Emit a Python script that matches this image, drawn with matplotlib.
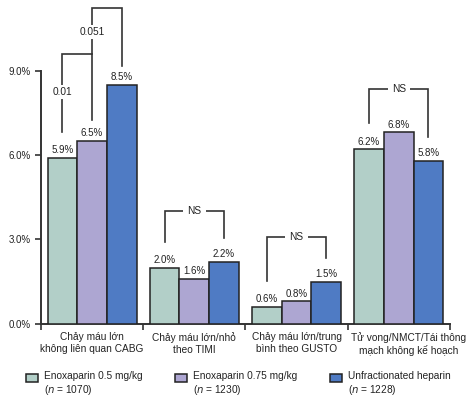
import matplotlib.pyplot as plt
import matplotlib.transforms as mtransforms
from matplotlib.legend_handler import HandlerPatch
from matplotlib.patches import Rectangle
import numpy as np

plt.rcParams['font.family'] = ['Liberation Sans', 'DejaVu Sans']

# data
categories = ['Chảy máu lớn\nkhông liên quan CABG',
              'Chảy máu lớn/nhỏ\ntheo TIMI',
              'Chảy máu lớn/trung\nbình theo GUSTO',
              'Tử vong/NMCT/Tái thông\nmạch không kế hoạch']
enox_05 = [5.9, 2.0, 0.6, 6.2]
enox_075 = [6.5, 1.6, 0.8, 6.8]
ufh = [8.5, 2.2, 1.5, 5.8]
series_labels = ['Enoxaparin 0.5 mg/kg\n($\\it{n}$ = 1070)',
                 'Enoxaparin 0.75 mg/kg\n($\\it{n}$ = 1230)',
                 'Unfractionated heparin\n($\\it{n}$ = 1228)']
colors = ['#b2cfc8', '#ada6d2', '#4f7bc4']
yticks = [0, 3, 6, 9]

line_c = '#333333'
fig = plt.figure(figsize=(4.75, 3.97), dpi=100)
ax = fig.add_axes([0.0863, 0.1839, 0.947 - 0.0863, 0.8224 - 0.1839])

x = np.arange(len(categories))
w = 0.29
bars = []
for k, vals in enumerate([enox_05, enox_075, ufh]):
    b = ax.bar(x + (k - 1) * w, vals, w, color=colors[k], edgecolor='#222222',
               linewidth=1.1, label=series_labels[k], zorder=3)
    bars.append(b)
    for xi, v in zip(x + (k - 1) * w, vals):
        ax.annotate('%.1f%%' % v, (xi, v), xytext=(0, 2), textcoords='offset points',
                    ha='center', va='bottom', fontsize=7, color='#222222')

ax.set_xlim(-0.5, 3.5)
ax.set_ylim(0, 9)
ax.set_yticks(yticks)
ax.set_yticklabels(['%.1f%%' % t for t in yticks])
ax.set_xticks(np.arange(-0.5, 4, 1))
ax.set_xticklabels([])
ax.set_xticks(x, minor=True)
ax.set_xticklabels(categories, minor=True, fontsize=7.3, color='#222222')
ax.tick_params(axis='x', which='minor', length=0, pad=6)
ax.tick_params(axis='both', which='major', direction='out', length=4, width=1.2,
               color=line_c, labelsize=7, labelcolor='#222222')
# last label sits a bit to the right in the original
lab = ax.get_xticklabels(minor=True)[-1]
lab.set_transform(lab.get_transform() +
                  mtransforms.ScaledTranslation(10 / 100, 0, fig.dpi_scale_trans))
for s in ['top', 'right']:
    ax.spines[s].set_visible(False)
for s in ['left', 'bottom']:
    ax.spines[s].set_linewidth(1.4)
    ax.spines[s].set_color(line_c)


def bracket(x1, x2, top, y1, y2, text, text_on_left=False, text_y=None):
    ax.plot([x1, x1, x2, x2], [y1, top, top, y2], color=line_c, lw=1.2,
            clip_on=False, zorder=2, solid_joinstyle='miter')
    if text_on_left:
        ax.text(x1, text_y, text, ha='center', va='center', fontsize=7.3,
                color='#222222', bbox=dict(facecolor='white', edgecolor='none', pad=1.5),
                zorder=4, clip_on=False)
    else:
        ax.text((x1 + x2) / 2, top, text, ha='center', va='center', fontsize=7.3,
                color='#222222', bbox=dict(facecolor='white', edgecolor='none', pad=3),
                zorder=4, clip_on=False)


# significance brackets (group 1)
bracket(-w, 0.0, 9.58, enox_05[0] + 0.92, enox_075[0] + 0.74, '0.01',
        text_on_left=True, text_y=8.24)
bracket(0.0, w, 11.22, 9.58, ufh[0] + 0.66, '0.051',
        text_on_left=True, text_y=10.37)
# NS brackets
ns_tops = [4.01, 3.09, 8.34]
for gi, top in zip([1, 2, 3], ns_tops):
    bracket(gi - w, gi + w, top, enox_05[gi] + 0.92, ufh[gi] + 0.85, 'NS')


def top_patch(legend, orig_handle, xdescent, ydescent, width, height, fontsize):
    # lift the swatch so it lines up with the first text line
    return Rectangle((-xdescent, -ydescent + 0.62 * fontsize), width, height)


handles = [b.patches[0] for b in bars]
fig.legend(handles=handles, labels=series_labels, loc='center left',
           bbox_to_anchor=(0.044, 0.034), ncol=3, frameon=False, fontsize=7.3,
           handlelength=1.18, handleheight=0.9, handletextpad=0.6,
           columnspacing=3.2, borderpad=0, labelcolor='#222222',
           handler_map={Rectangle: HandlerPatch(patch_func=top_patch)})

fig.savefig('out.png', dpi=100)
